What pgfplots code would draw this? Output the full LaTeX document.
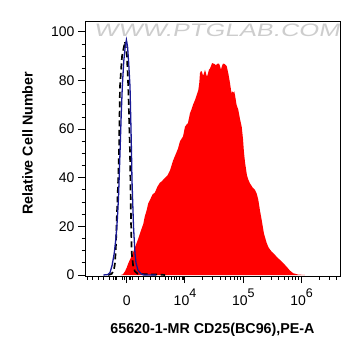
\documentclass[border=0pt]{standalone}
\usepackage{fontspec}
\setmainfont{Liberation Sans}
\usepackage{pgfplots}
\pgfplotsset{compat=1.18}
\usepackage{pgfplotstable}
\definecolor{wm}{RGB}{205,205,205}
\definecolor{navyline}{RGB}{25,25,150}
\newcommand{\sexp}[1]{\raisebox{0.55em}{\fontsize{12.5}{13}\selectfont #1}}

\pgfplotstableread{
d val
2.90 0
2.937 0.3
2.971 1.5
3.00 3
3.027 4.8
3.07 7
3.113 9.5
3.16 12.5
3.199 15
3.24 18
3.285 21
3.31 24
3.343 26.7
3.37 29.5
3.40 30.9
3.44 33
3.485 34
3.53 36.5
3.571 38
3.60 38.5
3.657 40
3.70 41
3.743 43
3.794 47
3.846 50
3.88 52
3.914 55
3.94 56
3.966 57
4.00 61
4.03 62
4.051 62.5
4.086 66.6
4.11 68
4.137 70
4.172 72
4.20 74
4.228 76
4.245 79
4.257 83
4.275 84
4.292 83.5
4.31 82
4.326 83
4.343 84.4
4.36 83
4.377 81.5
4.395 83
4.412 84.5
4.43 85
4.446 86
4.465 87.2
4.485 87
4.51 86.8
4.532 86.3
4.555 86.9
4.583 87
4.60 86
4.617 84.5
4.635 86
4.652 87
4.68 86.8
4.715 86
4.743 83
4.772 79
4.79 76
4.801 74.8
4.815 75.5
4.828 75
4.845 75.5
4.858 74
4.885 70
4.914 68
4.945 64
4.973 61
4.995 56
5.01 51
5.029 46.5
5.063 41
5.09 39
5.115 37.7
5.16 36
5.201 35
5.23 33.5
5.257 31
5.29 26
5.316 22.6
5.355 17
5.401 13.2
5.43 11.5
5.458 10.5
5.49 9.5
5.515 9
5.573 7.5
5.629 6.2
5.681 5
5.744 3.4
5.801 1.8
5.858 0.7
5.938 0.2
6.058 0
}\redtable

\pgfplotstableread{
d val
2.60 0
2.68 0.2
2.714 1
2.75 4
2.787 9
2.815 15
2.839 22.6
2.86 32
2.885 50
2.905 65
2.925 77.5
2.95 88
2.975 94
2.995 96.7
3.015 94
3.035 87
3.057 77.5
3.072 62
3.083 50
3.091 39
3.117 20
3.142 9
3.160 5
3.194 2
3.245 0.5
3.297 0
3.50 0
}\bluetable

\pgfplotstableread{
d val
2.68 0
2.743 0.5
2.78 2
2.80 5
2.815 12
2.829 22.6
2.85 36
2.868 50
2.885 77.5
2.92 90
2.97 96
3.005 90
3.027 77.5
3.057 50
3.074 22.6
3.086 9
3.11 4
3.14 1.5
3.19 0.5
3.31 0.3
3.54 0.2
3.66 0
}\dashtable

\begin{document}
\begin{tikzpicture}
\path[use as bounding box] (0pt,0pt) rectangle (361pt,-356pt);
\begin{axis}[
  at={(85pt,-276pt)}, anchor=south west,
  scale only axis, width=255pt, height=255pt,
  xmin=2.285, xmax=6.659, ymin=-0.41, ymax=104.5,
  axis line style={line width=1pt},
  tick align=outside,
  xtick pos=bottom, ytick pos=left,
  major tick length=7pt, minor tick length=3.5pt,
  every tick/.style={black, line width=1pt},
  xtick={3,4,5,6},
  xticklabels={0,10\sexp{4},10\sexp{5},10\sexp{6}},
  minor xtick={2.32,2.42,2.51,2.61,2.70,2.77,2.80,2.83,2.93,2.96,3.04,3.07,3.10,3.20,3.29,3.40,3.49,3.57,3.66,3.71,3.77,3.82,3.86,3.91,3.95,3.97,
    4.301,4.477,4.602,4.699,4.778,4.845,4.903,4.954,
    5.301,5.477,5.602,5.699,5.778,5.845,5.903,5.954,
    6.301,6.477,6.602},
  ytick={0,20,40,60,80,100},
  yticklabels={0,20,40,60,80,100},
  minor ytick={5,10,15,25,30,35,45,50,55,65,70,75,85,90,95},
  tick label style={font=\fontsize{14}{16}\selectfont},
  xticklabel style={anchor=base, yshift=-22pt},
  xlabel={65620-1-MR CD25(BC96),PE-A},
  ylabel={Relative Cell Number},
  label style={font=\fontsize{14.3}{16}\selectfont\bfseries},
  xlabel style={at={(axis description cs:0.5,-0.21)}, anchor=center},
  ylabel style={at={(axis description cs:-0.2255,0.52)}, anchor=center},
  clip=true,
]
\node[text=wm, font=\fontsize{18}{20}\selectfont, xscale=1.42, xslant=0.15, anchor=center] at (axis description cs:0.522,0.965) {WWW.PTGLAB.COM};
\addplot[fill=red, draw=none] table[x=d, y=val] {\redtable} \closedcycle;
\addplot[black, line width=1.7pt, dash pattern=on 6pt off 3.5pt] table[x=d, y=val] {\dashtable};
\addplot[navyline, line width=1.3pt] table[x=d, y=val] {\bluetable};
\end{axis}
\end{tikzpicture}
\end{document}
